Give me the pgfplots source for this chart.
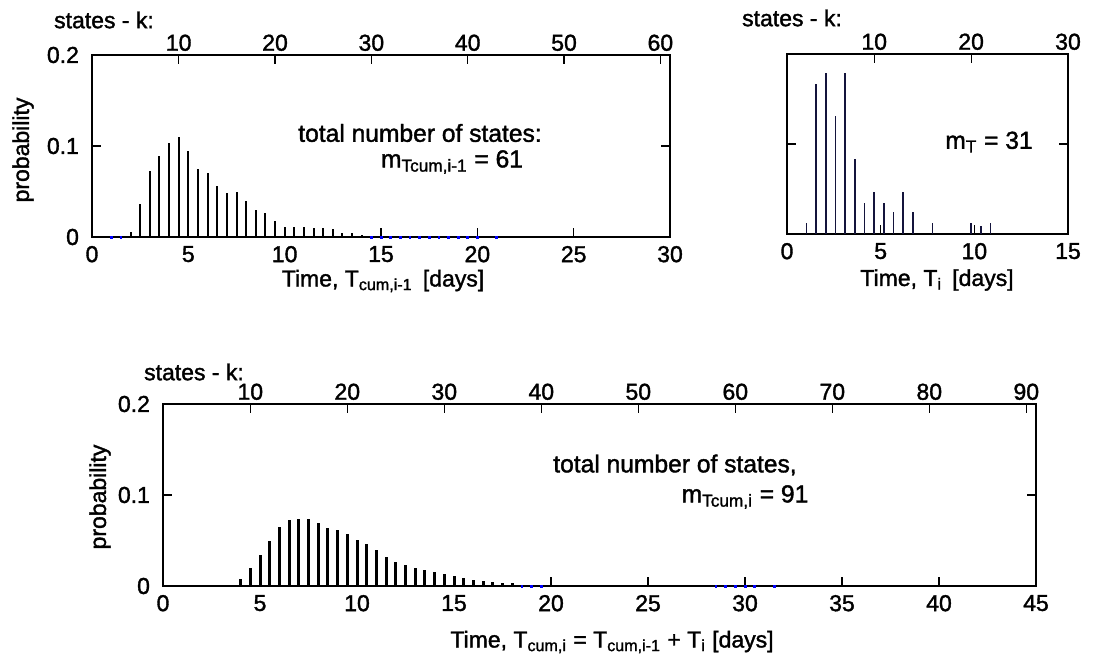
\documentclass[border=0pt]{standalone}
\usepackage{fontspec}
\setmainfont[FakeBold=1.5]{Liberation Sans}
\usepackage{pgfplots}
\pgfplotsset{compat=1.18}
\newcommand{\sub}[1]{\textsubscript{#1}}
\definecolor{stemnavy}{RGB}{20,20,60}
\pgfplotsset{
  base/.style={
    scale only axis, anchor=north west,
    ymin=0, ymax=0.2,
    axis line style={line width=0.7pt},
    major tick length=4.5pt,
    tick align=inside,
    tick style={line width=0.6pt, black},
    ticklabel style={font=\fontsize{11.5}{12}\selectfont},
    /pgf/number format/assume math mode=true,
    clip=false,
  },
  timeax/.style={base, xtick pos=left, ytick={0,0.1,0.2},
    xticklabel style={yshift=-1pt}, yticklabel style={xshift=-3pt}},
  kax/.style={base, axis x line*=top, axis y line=none, x axis line style={-},
    xticklabel style={yshift=-1.5pt}},
  zerodot/.style={only marks, mark=square*, mark size=0.45pt, blue},
}
\begin{document}
\begin{tikzpicture}[x=1pt,y=1pt]
\path[use as bounding box] (0pt,0pt) rectangle (548pt,330pt);

% ---- top left: T_cum,i-1
\begin{axis}[timeax, at={(46pt,302.5pt)}, width=289pt, height=91pt,
  xmin=0, xmax=30, xtick={0,5,...,30}, yticklabels={0,0.1,0.2}]
\addplot[ycomb, line width=1pt, black] coordinates {
(2.0,0.0055)(2.5,0.036)(3.0,0.073)(3.5,0.089)(4.0,0.103)(4.5,0.110)
(5.0,0.094)(5.5,0.075)(6.0,0.070)(6.5,0.056)(7.0,0.048)(7.5,0.049)
(8.0,0.040)(8.5,0.030)(9.0,0.026)(9.5,0.018)(10.0,0.011)(10.5,0.011)
(11.0,0.0105)(11.5,0.0095)(12.0,0.0099)(12.5,0.0084)(13.0,0.0048)
(13.5,0.0044)(14.0,0.0026)};
\addplot[zerodot] coordinates {(1,0)(1.5,0)(14.5,0)(15,0)(15.5,0)(16,0)(16.5,0)
(17,0)(17.5,0)(18,0)(18.5,0)(19,0)(19.5,0)(20,0)(21,0)};
\end{axis}
\begin{axis}[kax, at={(46pt,302.5pt)}, width=289pt, height=91pt,
  xmin=1, xmax=61, xtick={10,20,...,60}]
\end{axis}

% ---- top right: T_i
\begin{axis}[timeax, at={(393.5pt,303pt)}, width=140.5pt, height=90pt,
  xmin=0, xmax=15, xtick={0,5,10,15}, yticklabels={}]
\end{axis}
\begin{axis}[kax, at={(393.5pt,303pt)}, width=140.5pt, height=90pt,
  xmin=1, xmax=30, xtick={10,20,30}]
\addplot[ycomb, line width=0.8pt, stemnavy] coordinates {
(3,0.0118)(4,0.167)(5,0.179)(6,0.131)(7,0.179)(8,0.083)(9,0.035)
(10,0.047)(11,0.035)(12,0.024)(13,0.047)(14,0.024)(16,0.0118)
(20,0.0118)(21,0.0085)(22,0.0118)};
\end{axis}

% ---- bottom: T_cum,i
\begin{axis}[timeax, at={(81.5pt,128pt)}, width=436.5pt, height=91pt,
  xmin=0, xmax=45, xtick={0,5,...,45}, yticklabels={0,0.1,0.2}]
\addplot[ycomb, line width=1.5pt, black] coordinates {
(3.5,0.001)(4.0,0.0077)(4.5,0.020)(5.0,0.034)(5.5,0.050)(6.0,0.065)
(6.5,0.073)(7.0,0.074)(7.5,0.0736)(8.0,0.069)(8.5,0.064)(9.0,0.0615)
(9.5,0.057)(10.0,0.051)(10.5,0.0465)(11.0,0.040)(11.5,0.0315)(12.0,0.0267)
(12.5,0.0227)(13.0,0.0194)(13.5,0.0176)(14.0,0.0158)(14.5,0.0132)
(15.0,0.0114)(15.5,0.0092)(16.0,0.0066)(16.5,0.0055)(17.0,0.0044)
(17.5,0.0033)(18.0,0.0029)
(20,0.0008)(20.5,0.0008)(21,0.0008)(21.5,0.0008)(22,0.0008)(22.5,0.0008)
(23,0.0008)(23.5,0.0008)(24,0.0008)(24.5,0.0008)(25,0.0008)(25.5,0.0008)
(26,0.0008)(26.5,0.0008)(27,0.0008)(27.5,0.0008)(28,0.0008)};
\addplot[zerodot] coordinates {(18.5,0)(19,0)(19.5,0)(28.5,0)(29,0)(29.5,0)
(30,0)(30.5,0)(31.5,0)};
\end{axis}
\begin{axis}[kax, at={(81.5pt,128pt)}, width=436.5pt, height=91pt,
  xmin=1, xmax=91, xtick={10,20,...,90}]
\end{axis}

% ---- texts
\begin{scope}[every node/.style={font=\fontsize{11.5}{13}\selectfont, inner sep=0pt}]
\node at (52pt,320pt) {states - k:};
\node at (396pt,321pt) {states - k:};
\node at (97pt,144pt) {states - k:};
\node at (191.5pt,189.5pt) {Time, T\sub{cum,i-1}\, [days]};
\node at (468.5pt,190pt) {Time, T\sub{i}\, [days]};
\node at (306pt,9pt) {Time, T\sub{cum,i} = T\sub{cum,i-1} + T\sub{i} [days]};
\node[rotate=90] at (11.5pt,255pt) {probability};
\node[rotate=90] at (50pt,81.5pt) {probability};
\end{scope}
\begin{scope}[every node/.style={font=\fontsize{12.3}{13}\selectfont, inner sep=0pt}]
\node at (210pt,263.5pt) {total number of states:};
\node at (226pt,249pt) {m\sub{Tcum,i-1} = 61};
\node at (494.5pt,259pt) {m\sub{T} = 31};
\node at (337.5pt,97.5pt) {total number of states,};
\node at (372.5pt,81.5pt) {m\sub{Tcum,i} = 91};
\end{scope}
\end{tikzpicture}
\end{document}
